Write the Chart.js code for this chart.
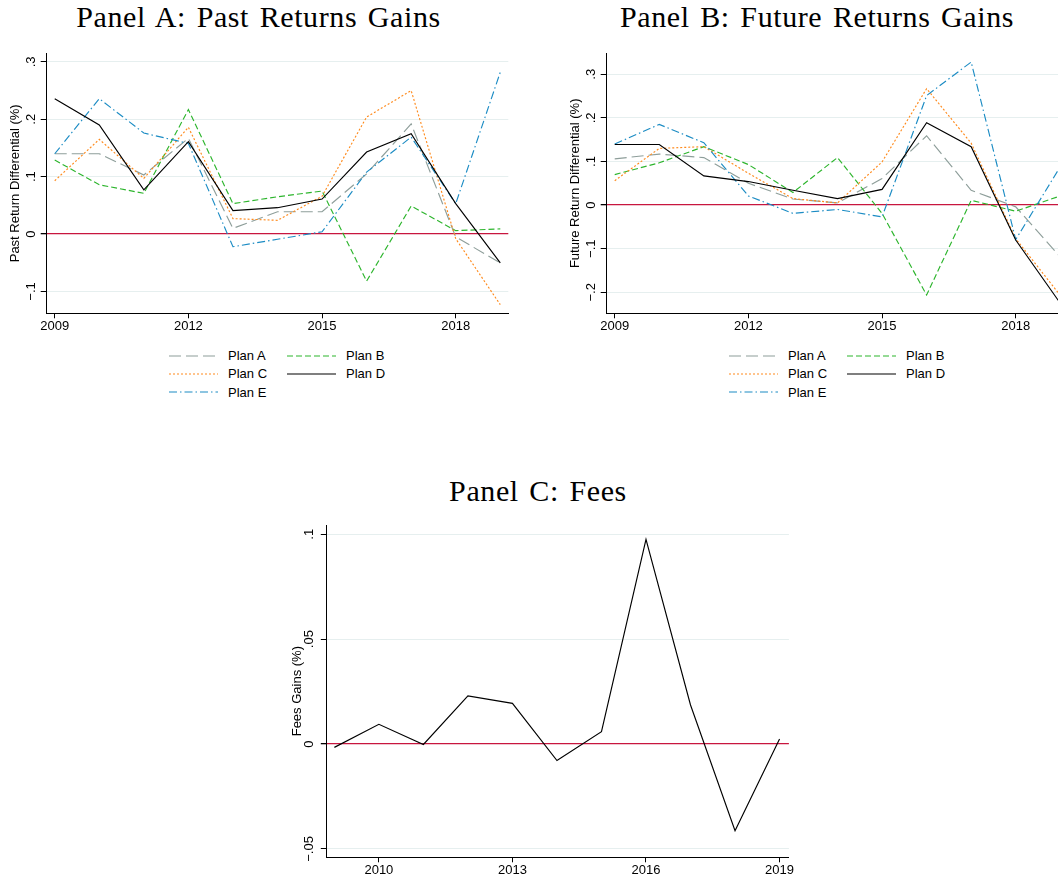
<!DOCTYPE html>
<html>
<head>
<meta charset="utf-8">
<script src="https://cdn.jsdelivr.net/npm/chart.js@4.4.1/dist/chart.umd.min.js"></script>
<style>
  html, body { margin: 0; padding: 0; background: #fff; }
  body { position: relative; width: 1058px; height: 880px; overflow: hidden;
         font-family: "Liberation Sans", Arial, sans-serif; }
  canvas { position: absolute; }
  .title { position: absolute; width: 600px; text-align: center; color: #000;
           font-family: "Liberation Serif", "Times New Roman", serif; font-size: 30px;
           line-height: 30px; letter-spacing: 0.6px; word-spacing: 2.5px; white-space: nowrap; }
  .legend { position: absolute; display: grid; grid-template-columns: 118px auto;
            grid-auto-rows: 18.3px; font-size: 13px; color: #000; }
  .legend .item { display: flex; align-items: center; white-space: nowrap; }
  .legend svg { width: 49px; height: 10px; margin-right: 10px; flex: none; }
</style>
</head>
<body>
<div class="title" id="titleA" style="left:-41.5px; top:2px;">Panel A: Past Returns Gains</div>
<div class="title" id="titleB" style="left:517px; top:2px;">Panel B: Future Returns Gains</div>
<div class="title" id="titleC" style="left:238px; top:475.6px;">Panel C: Fees</div>

<canvas id="panelA" width="520" height="300" style="left:0; top:40px;"></canvas>
<canvas id="panelB" width="520" height="300" style="left:560px; top:40px;"></canvas>
<canvas id="panelC" width="530" height="370" style="left:270px; top:510px;"></canvas>

<div class="legend" id="legendA" style="left:169px; top:346.5px;"></div>
<div class="legend" id="legendB" style="left:729px; top:346.5px;"></div>

<script>
// ---- data ----
const years = [2009, 2010, 2011, 2012, 2013, 2014, 2015, 2016, 2017, 2018, 2019];

// Past return differential (%) by plan
const pastPlanA = [0.140, 0.140, 0.103, 0.167, 0.010, 0.039, 0.039, 0.105, 0.192, -0.005, -0.050];
const pastPlanB = [0.129, 0.086, 0.071, 0.217, 0.053, 0.065, 0.075, -0.082, 0.049, 0.006, 0.009];
const pastPlanC = [0.093, 0.165, 0.097, 0.186, 0.027, 0.024, 0.066, 0.204, 0.250, -0.008, -0.123];
const pastPlanD = [0.236, 0.190, 0.077, 0.161, 0.041, 0.046, 0.061, 0.143, 0.175, 0.053, -0.050];
const pastPlanE = [0.140, 0.236, 0.176, 0.158, -0.022, -0.009, 0.004, 0.108, 0.169, 0.053, 0.282];

// Future return differential (%) by plan
const futurePlanA = [0.106, 0.117, 0.109, 0.050, 0.014, 0.005, 0.061, 0.159, 0.034, -0.004, -0.119];
const futurePlanB = [0.070, 0.097, 0.134, 0.093, 0.029, 0.109, -0.019, -0.206, 0.011, -0.014, 0.021];
const futurePlanC = [0.056, 0.130, 0.134, 0.073, 0.015, 0.005, 0.099, 0.267, 0.142, -0.077, -0.207];
const futurePlanD = [0.139, 0.139, 0.067, 0.054, 0.034, 0.015, 0.036, 0.189, 0.134, -0.080, -0.225];
const futurePlanE = [0.140, 0.185, 0.143, 0.021, -0.019, -0.010, -0.027, 0.251, 0.328, -0.079, 0.088];

// Fees gains (%)
const feeGains = [-0.0016, 0.0094, -0.0002, 0.0229, 0.0194, -0.0079, 0.0059, 0.0975, 0.0186, -0.0413, 0.0024];

const planNames = ['Plan A', 'Plan B', 'Plan C', 'Plan D', 'Plan E'];

// axis ticks
const yearTicksAB = [2009, 2012, 2015, 2018];
const yearTicksC = [2010, 2013, 2016, 2019];
const pastTicks = [-0.1, 0, 0.1, 0.2, 0.3];
const futureTicks = [-0.2, -0.1, 0, 0.1, 0.2, 0.3];
const feeTicks = [-0.05, 0, 0.05, 0.1];

// ---- styles ----
const planStyles = {
  'Plan A': { color: '#8e9e9a', dash: [12, 5], order: 5 },
  'Plan B': { color: '#2db52d', dash: [6, 3], order: 4 },
  'Plan C': { color: '#ff8a1c', dash: [2, 2], order: 3 },
  'Plan D': { color: '#000000', dash: [], order: 1 },
  'Plan E': { color: '#1c8cc4', dash: [8, 3, 1.5, 3], order: 2 }
};
const GRID_COLOR = '#e6efef';
const ZERO_COLOR = '#c8163f';
Chart.defaults.font.family = '"Liberation Sans", Arial, sans-serif';
Chart.defaults.font.size = 13;
Chart.defaults.color = '#000';

// Stata-style tick text: ".3", "0", "−.05"
function fmtTick(v) {
  if (v === 0) return '0';
  const s = Number(Math.abs(v).toFixed(4)).toString().replace(/^0\./, '.');
  return (v < 0 ? '\u2212' : '') + s;
}

function points(values) {
  return years.map((x, i) => ({ x: x, y: values[i] }));
}

function planDataset(name, values) {
  const st = planStyles[name];
  return {
    label: name, data: points(values), borderColor: st.color, backgroundColor: st.color,
    borderDash: st.dash, borderWidth: 1.15, pointRadius: 0, tension: 0, order: st.order
  };
}

// Vertical y tick labels and y axis title, placed from the y scale
const verticalYLabels = {
  id: 'verticalYLabels',
  afterDraw(chart, args, opts) {
    const s = chart.scales.y;
    const ctx = chart.ctx;
    const area = chart.chartArea;
    ctx.save();
    ctx.fillStyle = '#000';
    ctx.font = '13px "Liberation Sans", Arial, sans-serif';
    ctx.textAlign = 'center';
    ctx.textBaseline = 'middle';
    s.ticks.forEach(t => {
      ctx.save();
      ctx.translate(area.left - opts.tickGap, s.getPixelForValue(t.value));
      ctx.rotate(-Math.PI / 2);
      ctx.fillText(fmtTick(t.value), 0, 0);
      ctx.restore();
    });
    ctx.translate(area.left - opts.titleGap, (area.top + area.bottom) / 2);
    ctx.rotate(-Math.PI / 2);
    ctx.fillText(opts.title, 0, 0);
    ctx.restore();
  }
};

function makePanel(id, datasets, p) {
  return new Chart(document.getElementById(id), {
    type: 'line',
    data: { datasets: datasets },
    plugins: [verticalYLabels],
    options: {
      responsive: false,
      animation: false,
      events: [],
      layout: { padding: { top: p.padTop, right: p.padRight, left: 0, bottom: 0 } },
      plugins: {
        legend: { display: false },
        tooltip: { enabled: false },
        verticalYLabels: { title: p.yTitle, tickGap: p.tickGap, titleGap: p.titleGap }
      },
      scales: {
        x: {
          type: 'linear', min: p.xMin, max: p.xMax,
          afterBuildTicks: s => { s.ticks = p.xTicks.map(v => ({ value: v })); },
          afterFit: s => { s.height = p.xHeight; },
          grid: { display: true, drawOnChartArea: false, drawTicks: true, tickLength: 5, tickColor: '#000' },
          border: { display: true, color: '#000', width: 1 },
          ticks: { padding: 0, maxRotation: 0, color: '#000', font: { size: 13 }, callback: v => String(v) }
        },
        y: {
          type: 'linear', min: p.yMin, max: p.yMax,
          afterBuildTicks: s => { s.ticks = p.yTicks.map(v => ({ value: v })); },
          afterFit: s => { s.width = p.yWidth; },
          grid: {
            drawTicks: true, tickLength: 6, tickColor: '#000',
            color: c => (c.tick && c.tick.value === 0 ? ZERO_COLOR : GRID_COLOR),
            lineWidth: c => (c.tick && c.tick.value === 0 ? 1.3 : 1)
          },
          border: { display: true, color: '#000', width: 1 },
          ticks: { display: false }
        }
      }
    }
  });
}

// HTML legend built from the chart's own datasets (two columns, filled by row)
function buildLegend(elId, chart) {
  const el = document.getElementById(elId);
  planNames.forEach(name => {
    const ds = chart.data.datasets.find(d => d.label === name);
    const item = document.createElement('div');
    item.className = 'item';
    item.innerHTML =
      '<svg viewBox="0 0 49 10"><line x1="0" y1="5" x2="49" y2="5" stroke="' + ds.borderColor +
      '" stroke-width="' + ds.borderWidth + '" stroke-dasharray="' + (ds.borderDash.length ? ds.borderDash.join(' ') : 'none') +
      '"/></svg><span>' + ds.label + '</span>';
    el.appendChild(item);
  });
}

const pastSeries = [pastPlanA, pastPlanB, pastPlanC, pastPlanD, pastPlanE];
const futureSeries = [futurePlanA, futurePlanB, futurePlanC, futurePlanD, futurePlanE];

const chartA = makePanel('panelA', planNames.map((n, i) => planDataset(n, pastSeries[i])), {
  padTop: 13.3, padRight: 11.7, yWidth: 46.7, xHeight: 26.7,
  xMin: 2008.82, xMax: 2019.18, xTicks: yearTicksAB,
  yMin: -0.138, yMax: 0.315, yTicks: pastTicks,
  yTitle: 'Past Return Differential (%)', tickGap: 15.5, titleGap: 31.7
});

const chartB = makePanel('panelB', planNames.map((n, i) => planDataset(n, futureSeries[i])), {
  padTop: 13.3, padRight: 11.7, yWidth: 46.7, xHeight: 26.7,
  xMin: 2008.82, xMax: 2019.18, xTicks: yearTicksAB,
  yMin: -0.248, yMax: 0.348, yTicks: futureTicks,
  yTitle: 'Future Return Differential (%)', tickGap: 15.5, titleGap: 31.7
});

const chartC = makePanel('panelC', [{
  label: 'Fees Gains', data: points(feeGains), borderColor: '#000', borderWidth: 1.15,
  pointRadius: 0, tension: 0
}], {
  padTop: 15, padRight: 11.1, yWidth: 56.8, xHeight: 22.7,
  xMin: 2008.83, xMax: 2019.21, xTicks: yearTicksC,
  yMin: -0.054, yMax: 0.1044, yTicks: feeTicks,
  yTitle: 'Fees Gains (%)', tickGap: 16.9, titleGap: 29.8
});

buildLegend('legendA', chartA);
buildLegend('legendB', chartB);
</script>
</body>
</html>
